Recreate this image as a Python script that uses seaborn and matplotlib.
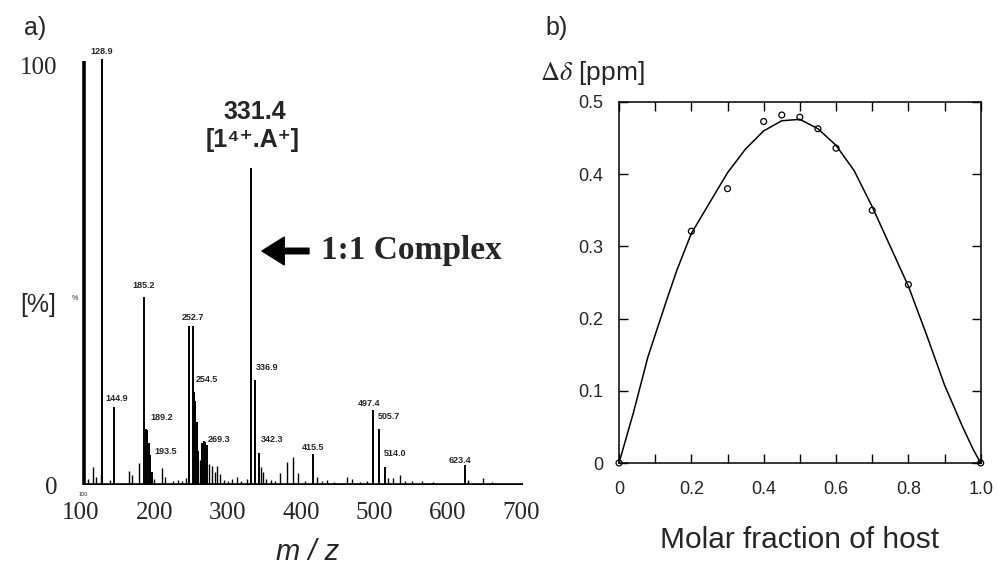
import matplotlib
matplotlib.use('Agg')
import matplotlib.pyplot as plt
import seaborn as sns
import numpy as np
import pandas as pd

# ---- a) mass spectrum ----
peak_mz = [104.0, 128.9, 144.9, 185.2, 189.2, 190.6, 192.0, 193.5, 196.3,
           246.5, 252.7, 254.5, 256.0, 257.5, 259.0, 264.4, 267.6, 269.3, 271.3,
           331.4, 336.9, 342.3, 415.5, 497.4, 505.7, 514.0, 623.4]
peak_int = [101.0, 101.5, 18.6, 44.8, 13.3, 13.0, 10.0, 7.1, 3.0,
            37.9, 37.9, 22.1, 20.0, 15.0, 8.0, 10.0, 10.5, 10.2, 9.5,
            75.5, 25.0, 7.6, 7.4, 17.9, 13.3, 4.3, 4.8]

small_mz = [110.0, 116.8, 120.4, 126.8, 140.0, 165.8, 169.1, 179.0, 200.0, 210.0,
            214.4, 225.0, 232.0, 238.0, 243.0, 262.0, 275.0, 278.5, 282.0, 285.3,
            289.4, 295.0, 300.0, 306.0, 312.0, 318.0, 325.7, 345.0, 348.0, 352.0,
            358.4, 365.0, 371.0, 381.0, 388.4, 396.0, 405.0, 421.0, 428.0, 434.7,
            445.0, 462.0, 468.8, 480.0, 490.0, 518.7, 525.5, 534.6, 542.0, 550.5,
            564.2, 580.0, 627.0, 647.7, 660.0]
small_int = [1.5, 4.4, 2.0, 2.4, 1.2, 3.4, 2.4, 5.2, 1.5, 4.0,
             2.0, 1.0, 1.3, 1.0, 1.6, 6.0, 5.0, 4.5, 3.0, 4.5,
             2.6, 1.2, 1.0, 1.5, 2.0, 1.0, 1.4, 4.4, 3.0, 1.5,
             1.2, 1.0, 2.8, 5.5, 6.7, 2.8, 1.0, 2.0, 1.0, 1.2,
             0.8, 2.0, 1.5, 0.8, 1.0, 1.7, 1.7, 2.4, 1.0, 1.0,
             1.0, 0.7, 1.2, 1.7, 0.6]

label_mz = [128.9, 144.9, 185.2, 189.2, 193.5, 252.7, 254.5, 269.3,
            336.9, 342.3, 415.5, 497.4, 505.7, 514.0, 623.4]
label_txt = ['128.9', '144.9', '185.2', '189.2', '193.5', '252.7', '254.5', '269.3',
             '336.9', '342.3', '415.5', '497.4', '505.7', '514.0', '623.4']
label_off = [(0, 7), (3, 8), (0, 11), (15, 12), (16, 4), (0, 8), (12, 13), (14, 3),
             (12, 12), (13, 14), (0, 6), (-4, 6), (10, 13), (10, 13), (-5, 4)]

ms_xticks = [100, 200, 300, 400, 500, 600, 700]

# ---- b) Job plot ----
pts_x = [0.0, 0.2, 0.3, 0.4, 0.45, 0.5, 0.55, 0.6, 0.7, 0.8, 1.0]
pts_y = [0.0, 0.321, 0.380, 0.473, 0.482, 0.479, 0.463, 0.436, 0.350, 0.247, 0.0]

fit_x = [0.0, 0.04, 0.08, 0.13, 0.16, 0.2, 0.25, 0.3, 0.35, 0.4, 0.45, 0.5,
         0.55, 0.6, 0.65, 0.7, 0.75, 0.8, 0.85, 0.9, 0.95, 0.98, 1.0]
fit_y = [0.0, 0.07, 0.147, 0.223, 0.267, 0.318, 0.36, 0.402, 0.435, 0.46, 0.474, 0.476,
         0.463, 0.44, 0.405, 0.355, 0.30, 0.245, 0.178, 0.108, 0.05, 0.018, 0.0]

jx_ticks = [0, 0.2, 0.4, 0.6, 0.8, 1.0]
jx_labels = ['0', '0.2', '0.4', '0.6', '0.8', '1.0']
jy_ticks = [0, 0.1, 0.2, 0.3, 0.4, 0.5]
jy_labels = ['0', '0.1', '0.2', '0.3', '0.4', '0.5']

sns.set_theme(style='ticks')
plt.rcParams['font.family'] = ['Liberation Sans', 'DejaVu Sans']
plt.rcParams['mathtext.fontset'] = 'stix'

W, H = 998, 566
fig = plt.figure(figsize=(W / 100, H / 100), dpi=100)

def fx(px):
    return px / W

def fy(py):
    return 1 - py / H

# left axes
ax1 = fig.add_axes([fx(81), fy(485), 444 / W, 445.2 / H])
ax1.set_xlim(100, 705)
ax1.set_ylim(0, 106)
for s in ax1.spines.values():
    s.set_visible(False)
ax1.set_facecolor('none')

lws = [2.6 if m < 110 else 1.4 for m in peak_mz]
ax1.vlines(small_mz, 0, small_int, color='black', lw=1.0)
ax1.vlines(peak_mz, 0, peak_int, color='black', linewidths=lws)
ax1.hlines(0, 105, 702, color='black', lw=2.6)

for m, t, off in zip(label_mz, label_txt, label_off):
    h = peak_int[peak_mz.index(m)]
    ax1.annotate(t, xy=(m, h), xytext=off, textcoords='offset pixels',
                 ha='center', va='center', fontsize=6.5, fontweight='bold',
                 annotation_clip=False)

ax1.set_xticks(ms_xticks)
ax1.set_xticklabels([str(v) for v in ms_xticks], family='Liberation Serif', fontsize=18)
ax1.set_yticks([0, 100])
ax1.set_yticklabels(['0', '100'], family='Liberation Serif', fontsize=18)
ax1.tick_params(axis='both', length=0)
ax1.tick_params(axis='x', pad=12)
ax1.tick_params(axis='y', pad=17)

# right axes
ax2 = fig.add_axes([fx(619), fy(463), 361.7 / W, 361 / H])
sns.lineplot(x=fit_x, y=fit_y, ax=ax2, color='black', lw=1.1, sort=True)
sns.scatterplot(x=pts_x, y=pts_y, ax=ax2, marker='o', s=18, facecolor='none',
                edgecolor='black', linewidth=0.9, clip_on=False, zorder=3)
ax2.set_xlim(0, 1)
ax2.set_ylim(0, 0.5)
ax2.set_xticks(np.arange(0, 1.01, 0.1), minor=True)
ax2.set_xticks(jx_ticks)
ax2.set_xticklabels(jx_labels, fontsize=13)
ax2.set_yticks(jy_ticks)
ax2.set_yticklabels(jy_labels, fontsize=13)
for s in ax2.spines.values():
    s.set_visible(True)
    s.set_linewidth(1.1)
    s.set_color('black')
ax2.tick_params(axis='both', which='both', direction='in', top=True, right=True,
                length=6.5, width=1.0, color='black')
ax2.tick_params(axis='x', pad=13)
ax2.tick_params(axis='y', pad=11)

# texts
fig.text(fx(35), fy(28), 'a)', fontsize=18, ha='center', va='center')
fig.text(fx(557), fy(28), 'b)', fontsize=18, ha='center', va='center')
fig.text(fx(38), fy(305), '[%]', fontsize=18, ha='center', va='center')
fig.text(fx(75), fy(298), '%', fontsize=5, ha='center', va='center')
fig.text(fx(83), fy(494), '100', fontsize=4, ha='center', va='center')
fig.text(fx(308), fy(552), 'm / z', fontsize=21, style='italic', ha='center', va='center')
fig.text(fx(800), fy(540), 'Molar fraction of host', fontsize=21.5, ha='center', va='center')
fig.text(fx(592), fy(73), r'$\Delta\delta$ [ppm]', fontsize=19, ha='center', va='center')
fig.text(fx(255), fy(112), '331.4', fontsize=18, fontweight='bold', ha='center', va='center')
fig.text(fx(253), fy(140), '[1⁴⁺.A⁺]', fontsize=18, fontweight='bold', ha='center', va='center')
fig.text(fx(411), fy(251), '1:1 Complex', fontsize=24, fontweight='bold',
         family='Liberation Serif', ha='center', va='center')
ax1.annotate('', xy=(262, H - 251), xycoords='figure pixels',
             xytext=(309, H - 251), textcoords='figure pixels',
             arrowprops=dict(arrowstyle='simple,head_length=0.8,head_width=1.0,tail_width=0.2',
                             mutation_scale=20, color='black', shrinkA=0, shrinkB=0))

fig.savefig('out.png', dpi=100)
